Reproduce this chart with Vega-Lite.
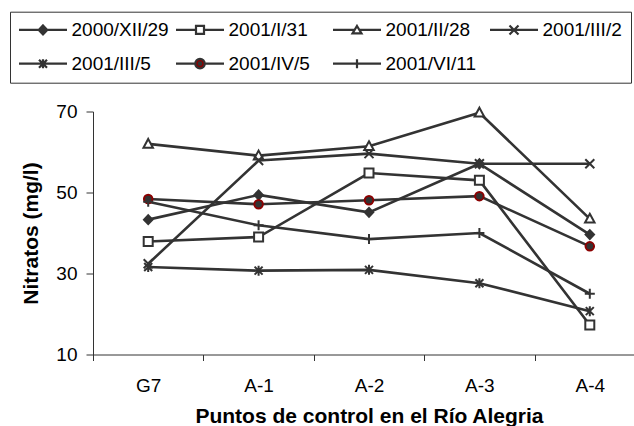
{
  "$schema": "https://vega.github.io/schema/vega-lite/v6.json",
  "width": 541,
  "height": 243,
  "autosize": {"type": "none"},
  "padding": {"left": 93, "top": 111.5, "right": 0, "bottom": 71.5},
  "background": "white",
  "config": {
    "view": {"stroke": null},
    "font": "Liberation Sans",
    "axis": {"labelFont": "Liberation Sans", "titleFont": "Liberation Sans", "labelColor": "#000", "titleColor": "#000", "domainColor": "#333", "tickColor": "#333", "labelFontSize": 19, "titleFontSize": 21, "titleFontWeight": "bold", "grid": false},
    "legend": {"labelFont": "Liberation Sans", "labelFontSize": 19, "labelColor": "#000"}
  },
  "data": {
    "values": [
      {"punto": "G7", "serie": "2000/XII/29", "valor": 43.3},
      {"punto": "A-1", "serie": "2000/XII/29", "valor": 49.4},
      {"punto": "A-2", "serie": "2000/XII/29", "valor": 45.1},
      {"punto": "A-3", "serie": "2000/XII/29", "valor": 57.1},
      {"punto": "A-4", "serie": "2000/XII/29", "valor": 39.6},
      {"punto": "G7", "serie": "2001/I/31", "valor": 37.9},
      {"punto": "A-1", "serie": "2001/I/31", "valor": 39.0},
      {"punto": "A-2", "serie": "2001/I/31", "valor": 54.8},
      {"punto": "A-3", "serie": "2001/I/31", "valor": 53.0},
      {"punto": "A-4", "serie": "2001/I/31", "valor": 17.3},
      {"punto": "G7", "serie": "2001/II/28", "valor": 62.0},
      {"punto": "A-1", "serie": "2001/II/28", "valor": 59.1},
      {"punto": "A-2", "serie": "2001/II/28", "valor": 61.4},
      {"punto": "A-3", "serie": "2001/II/28", "valor": 69.7},
      {"punto": "A-4", "serie": "2001/II/28", "valor": 43.5},
      {"punto": "G7", "serie": "2001/III/2", "valor": 32.4},
      {"punto": "A-1", "serie": "2001/III/2", "valor": 57.9},
      {"punto": "A-2", "serie": "2001/III/2", "valor": 59.6},
      {"punto": "A-3", "serie": "2001/III/2", "valor": 57.1},
      {"punto": "A-4", "serie": "2001/III/2", "valor": 57.1},
      {"punto": "G7", "serie": "2001/III/5", "valor": 31.6},
      {"punto": "A-1", "serie": "2001/III/5", "valor": 30.7},
      {"punto": "A-2", "serie": "2001/III/5", "valor": 30.9},
      {"punto": "A-3", "serie": "2001/III/5", "valor": 27.6},
      {"punto": "A-4", "serie": "2001/III/5", "valor": 20.7},
      {"punto": "G7", "serie": "2001/IV/5", "valor": 48.4},
      {"punto": "A-1", "serie": "2001/IV/5", "valor": 47.1},
      {"punto": "A-2", "serie": "2001/IV/5", "valor": 48.1},
      {"punto": "A-3", "serie": "2001/IV/5", "valor": 49.1},
      {"punto": "A-4", "serie": "2001/IV/5", "valor": 36.7},
      {"punto": "G7", "serie": "2001/VI/11", "valor": 47.7},
      {"punto": "A-1", "serie": "2001/VI/11", "valor": 41.9},
      {"punto": "A-2", "serie": "2001/VI/11", "valor": 38.5},
      {"punto": "A-3", "serie": "2001/VI/11", "valor": 40.0},
      {"punto": "A-4", "serie": "2001/VI/11", "valor": 25.0}
    ]
  },
  "layer": [
    {
      "mark": {"type": "line", "color": "#333"},
      "encoding": {
        "x": {
          "field": "punto", "type": "nominal",
          "sort": ["G7", "A-1", "A-2", "A-3", "A-4"],
          "scale": {"domain": ["G7", "A-1", "A-2", "A-3", "A-4"], "range": [0, 552], "paddingInner": 0, "paddingOuter": 0},
          "axis": {"labelAngle": 0, "tickBand": "extent", "tickSize": 6, "labelPadding": 16, "title": "Puntos de control en el Río Alegria", "titleX": 276, "titleY": 67.5, "titleBaseline": "alphabetic", "titleAnchor": null, "titleAlign": "center"}
        },
        "y": {
          "field": "valor", "type": "quantitative",
          "scale": {"domain": [10, 70], "nice": false, "zero": false},
          "axis": {"values": [10, 30, 50, 70], "tickSize": 7, "labelPadding": 9, "title": "Nitratos (mg/l)", "titleX": -56, "titleY": 121.5, "titleBaseline": "alphabetic", "titleAngle": -90, "titleAlign": "center"}
        },
        "detail": {"field": "serie"},
        "strokeWidth": {
          "field": "serie", "type": "nominal",
          "scale": {"domain": ["2000/XII/29", "2001/I/31", "2001/II/28", "2001/III/2", "2001/III/5", "2001/IV/5", "2001/VI/11"], "range": [2.6, 2.6, 2.6, 2.6, 2.6, 1, 2.6]},
          "legend": null
        }
      }
    },
    {
      "mark": {"type": "point", "size": 100, "opacity": 1, "strokeWidth": 2, "filled": true},
      "encoding": {
        "x": {"field": "punto", "type": "nominal", "sort": ["G7", "A-1", "A-2", "A-3", "A-4"]},
        "y": {"field": "valor", "type": "quantitative"},
        "shape": {
          "field": "serie", "type": "nominal",
          "scale": {"domain": ["2000/XII/29", "2001/I/31", "2001/II/28", "2001/III/2", "2001/III/5", "2001/IV/5", "2001/VI/11"],
            "range": [
              "M0,-0.9L0.85,0L0,0.9L-0.85,0Z",
              "M-0.9,-0.9H0.9V0.9H-0.9Z",
              "M0,-1L0.95,0.75L-0.95,0.75Z",
              "M-0.9,-0.9L0.9,0.9M-0.9,0.9L0.9,-0.9",
              "M-0.8,-0.8L0.8,0.8M-0.8,0.8L0.8,-0.8M0,-1V1",
              "M-0.85,0A0.85,0.85,0,1,0,0.85,0A0.85,0.85,0,1,0,-0.85,0Z",
              "M-1,0H1M0,-1V1"
            ]},
          "legend": null
        },
        "fill": {
          "field": "serie", "type": "nominal",
          "scale": {"domain": ["2000/XII/29", "2001/I/31", "2001/II/28", "2001/III/2", "2001/III/5", "2001/IV/5", "2001/VI/11"], "range": ["#333", "#fff", "#fff", "#333", "#333", "#333", "#333"]},
          "legend": null
        },
        "stroke": {
          "field": "serie", "type": "nominal",
          "scale": {"domain": ["2000/XII/29", "2001/I/31", "2001/II/28", "2001/III/2", "2001/III/5", "2001/IV/5", "2001/VI/11"], "range": ["#333", "#333", "#333", "#333", "#333", "#8B0000", "#333"]},
          "legend": null
        }
      }
    },
    {
      "transform": [{"filter": "false"}],
      "mark": {"type": "point", "size": 100, "opacity": 1, "filled": true},
      "encoding": {
        "shape": {
          "field": "serie", "type": "nominal",
          "scale": {"domain": ["2000/XII/29", "2001/I/31", "2001/II/28", "2001/III/2", "2001/III/5", "2001/IV/5", "2001/VI/11"],
            "range": [
              "M-1.8,0H7.8M3,-0.9L3.85,0L3,0.9L2.15,0Z",
              "M-1.8,0H2.2M3.8,0H7.8M2.2,-0.8H3.8V0.8H2.2Z",
              "M-1.8,0H2.52M3.48,0H7.8M3,-0.8L3.9,0.7L2.1,0.7Z",
              "M-1.8,0H7.8M2.1,-0.9L3.9,0.9M2.1,0.9L3.9,-0.9",
              "M-1.8,0H7.8M2.2,-0.8L3.8,0.8M2.2,0.8L3.8,-0.8M3,-0.9V0.9",
              "M-1.8,0H2.05M3.95,0H7.8M2.05,0A0.95,0.95,0,1,0,3.95,0A0.95,0.95,0,1,0,2.05,0ZM2.75,0A0.25,0.25,0,1,0,3.25,0A0.25,0.25,0,1,0,2.75,0Z",
              "M-1.8,0H7.8M3,-0.9V0.9"
            ]},
          "legend": {
            "title": null, "orient": "none", "legendX": -83, "legendY": -99.8, "direction": "horizontal", "columns": 4,
            "gridAlign": "all", "columnPadding": 2, "rowPadding": 14, "padding": 8.5,
            "symbolSize": 100, "labelOffset": 34, "labelLimit": 300,
            "strokeColor": "#333", "fillColor": "#fff"
          }
        },
        "fill": {
          "field": "serie", "type": "nominal",
          "scale": {"domain": ["2000/XII/29", "2001/I/31", "2001/II/28", "2001/III/2", "2001/III/5", "2001/IV/5", "2001/VI/11"], "range": ["#333", "#fff", "#fff", "#333", "#333", "#8B0000", "#333"]}
        },
        "stroke": {
          "field": "serie", "type": "nominal",
          "scale": {"domain": ["2000/XII/29", "2001/I/31", "2001/II/28", "2001/III/2", "2001/III/5", "2001/IV/5", "2001/VI/11"], "range": ["#333", "#333", "#333", "#333", "#333", "#333", "#333"]}
        },
        "strokeWidth": {
          "field": "serie", "type": "nominal",
          "scale": {"domain": ["2000/XII/29", "2001/I/31", "2001/II/28", "2001/III/2", "2001/III/5", "2001/IV/5", "2001/VI/11"], "range": [2.2, 2.2, 2.2, 2.2, 2.2, 1, 2.2]}
        }
      }
    }
  ],
  "resolve": {"scale": {"shape": "independent", "fill": "independent", "stroke": "independent", "strokeWidth": "independent"}}
}
